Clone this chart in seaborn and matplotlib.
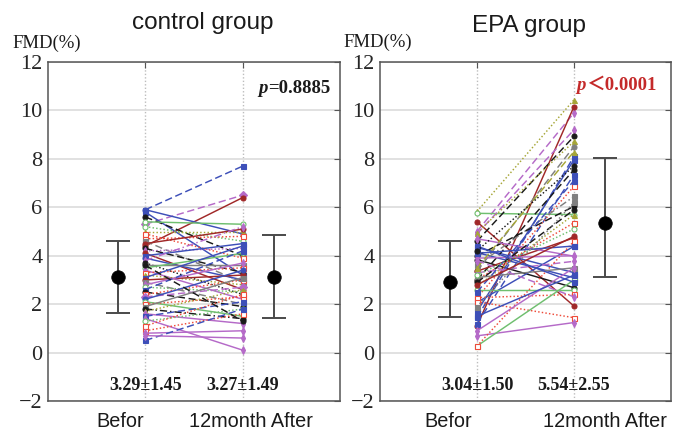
import matplotlib
matplotlib.use("Agg")
import matplotlib.pyplot as plt
import matplotlib.transforms as mtransforms
import numpy as np
import pandas as pd
import seaborn as sns

# ---------------- data ----------------
time_labels = ["Befor", "12month After"]
group_titles = ["control group", "EPA group"]
y_label = "FMD(%)"

ctrl_before = [5.9, 5.3, 4.4, 5.9, 5.8, 5.6, 5.4, 5.2, 5.0, 4.9,
               4.7, 4.6, 4.5, 4.3, 4.2, 4.1, 4.0, 3.9, 3.8, 3.7,
               3.6, 3.5, 3.4, 3.3, 3.2, 3.1, 3.0, 2.9, 2.8, 2.7,
               2.6, 2.5, 2.4, 2.3, 2.2, 2.1, 2.0, 1.9, 1.8, 1.7,
               1.6, 1.5, 1.4, 1.3, 1.1, 0.9, 0.8, 0.5, 0.7, 3.6]
ctrl_after = [7.7, 6.5, 6.4, 4.9, 3.2, 4.0, 5.3, 4.6, 5.0, 3.9,
              4.8, 2.9, 5.1, 3.3, 4.3, 2.6, 4.5, 3.0, 5.2, 2.4,
              3.6, 4.1, 2.2, 3.5, 2.8, 4.4, 3.2, 2.0, 3.7, 2.5,
              4.2, 1.9, 3.0, 2.7, 3.4, 1.5, 2.3, 3.1, 1.4, 2.6,
              1.2, 2.1, 0.1, 1.8, 2.4, 1.6, 0.9, 1.8, 0.6, 1.3]

epa_before = [5.83, 5.0, 1.1, 5.4, 5.75, 4.9, 4.6, 4.95, 4.34, 4.13,
              3.84, 1.45, 1.7, 3.36, 3.0, 1.2, 2.27, 3.6, 4.0, 2.74,
              3.02, 3.36, 2.07, 4.7, 3.3, 2.6, 2.27, 2.1, 0.69, 0.27,
              0.27, 3.9, 4.1, 3.1, 2.9, 2.5, 1.9, 3.5, 4.4, 3.8,
              0.9, 2.8, 4.2, 3.2, 1.5]
epa_after = [10.44, 9.9, 10.16, 1.92, 5.7, 9.2, 8.93, 8.72, 3.3, 3.09,
             2.68, 8.1, 7.96, 8.51, 7.55, 7.35, 6.87, 6.45, 6.04, 5.7,
             5.36, 4.74, 4.39, 3.98, 3.77, 2.6, 2.4, 1.44, 1.24, 3.0,
             4.6, 4.0, 4.4, 3.5, 5.9, 7.1, 6.2, 8.3, 2.9, 2.3,
             3.5, 4.8, 7.7, 5.1, 3.2]

# mean markers and error-bar ends as drawn
ctrl_mean = [3.12, 3.12]
ctrl_err_low = [1.65, 1.42]
ctrl_err_high = [4.59, 4.86]
epa_mean = [2.90, 5.36]
epa_err_low = [1.45, 3.14]
epa_err_high = [4.62, 8.03]

ctrl_summary = ["3.29±1.45", "3.27±1.49"]
epa_summary = ["3.04±1.50", "5.54±2.55"]
ctrl_p_text = ["p", "=0.8885"]
epa_p_text = ["p", "＜0.0001"]
y_ticks = [-2, 0, 2, 4, 6, 8, 10, 12]

# ---------------- styles ----------------
COLORS = {
    "b": "#3d4fb8", "r": "#a02828", "m": "#b56ac8", "g": "#6fbf6f",
    "k": "#1a1a1a", "a": "#808080", "y": "#a6a637", "o": "#ee4b3a",
}
LINESTYLES = {"-": "-", "--": (0, (5, 2.5)), ":": (0, (1, 1.5)), "-.": (0, (5, 2, 1, 2))}
OPEN = {"g", "o"}

ctrl_style = ["b--s", "m--D", "r-o", "b-o", "b-s", "k--o", "g-o", "g:o", "y:^", "o:s",
              "o:s", "a--s", "r-o", "k--o", "m:d", "r-o", "b-s", "b-o", "m-.d", "k:o",
              "a-s", "g-o", "m-d", "o:s", "y:^", "b-s", "r-o", "a--s", "m-d", "g:o",
              "b--s", "k--o", "o:s", "m--D", "b-o", "g-o", "o:s", "a-s", "k-.o", "y:^",
              "m-d", "b--s", "m-d", "g:o", "o:s", "o:s", "m-d", "b--s", "m-d", "k--o"]
epa_style = ["y:^", "m--d", "r-o", "r-o", "g-o", "m--d", "k--o", "y:^", "b-s", "b-s",
             "k-o", "b--s", "b-s", "a--o", "k--o", "b--s", "o:s", "a-.s", "k--o", "y:^",
             "o:s", "r-o", "b-s", "m-d", "m--d", "g-o", "o:s", "o:s", "m-d", "g-s",
             "o:s", "m-d", "b-s", "a-s", "k--o", "b--s", "a:s", "y--^", "b-s", "m--d",
             "m-d", "r-o", "k:o", "g:o", "b-s"]

sns.set_style("white")
plt.rcParams["font.family"] = ["Liberation Sans", "DejaVu Sans"]
SERIF = ["Liberation Serif", "Noto Sans CJK JP", "DejaVu Serif"]

W, H = 683, 432
fig = plt.figure(figsize=(W / 100, H / 100), dpi=100)
fig.patch.set_facecolor("white")

panels = [
    dict(before=ctrl_before, after=ctrl_after, style=ctrl_style, mean=ctrl_mean,
         low=ctrl_err_low, high=ctrl_err_high, summary=ctrl_summary, ptxt=ctrl_p_text,
         pcolor="#1a1a1a", px=2.165, py=10.71, left=48, right=340,
         title=group_titles[0], tx=203, ty=29, lx=47, ly=48, lab_x=(0.742, 2.088)),
    dict(before=epa_before, after=epa_after, style=epa_style, mean=epa_mean,
         low=epa_err_low, high=epa_err_high, summary=epa_summary, ptxt=epa_p_text,
         pcolor="#c42a2a", px=2.028, py=10.85, left=380, right=671,
         title=group_titles[1], tx=529, ty=32, lx=378, ly=47, lab_x=(0.70, 2.32)),
]

top_px, bot_px = 62, 401
mean_x = [0.72, 2.32]

for P in panels:
    ax = fig.add_axes([P["left"] / W, 1 - bot_px / H,
                       (P["right"] - P["left"]) / W, (bot_px - top_px) / H])
    ax.set_facecolor("white")
    n = len(P["before"])
    df = pd.DataFrame({
        "line": list(range(n)) * 2,
        "time": [1] * n + [2] * n,
        "value": list(P["before"]) + list(P["after"]),
    })
    for i, sub in df.groupby("line", sort=False):
        s = P["style"][i]
        c = COLORS[s[0]]
        ls = LINESTYLES[s[1:-1]]
        mk = s[-1]
        sns.lineplot(data=sub, x="time", y="value", ax=ax, color=c, linestyle=ls,
                     marker=mk, markersize=3.6, markeredgecolor=c,
                     markerfacecolor=("white" if s[0] in OPEN else c),
                     markeredgewidth=0.8, linewidth=1.05, sort=False,
                     estimator=None, legend=False, zorder=3)

    means = np.array(P["mean"])
    yerr = [means - np.array(P["low"]), np.array(P["high"]) - means]
    ax.errorbar(mean_x, means, yerr=yerr, fmt="none", ecolor="#4a4a4a",
                elinewidth=1.4, capsize=8.5, capthick=1.4, zorder=5)
    sns.scatterplot(x=mean_x, y=means, ax=ax, color="black", s=95,
                    edgecolor="black", linewidth=0.5, legend=False, zorder=6)

    ax.set_xlim(0, 3)
    ax.set_ylim(-2, 12)
    ax.set_yticks(y_ticks)
    ax.set_yticklabels([f"{t:d}".replace("-", "\u2212") for t in y_ticks],
                       fontfamily=SERIF, fontsize=16)
    ax.set_xticks([1, 2])
    ax.set_xticklabels(["", ""])
    # category labels under the axis (placed as in the picture)
    btrans = mtransforms.blended_transform_factory(ax.transData, ax.transAxes)
    for xl, lab in zip(P["lab_x"], time_labels):
        ax.text(xl, -(427 - bot_px) / (bot_px - top_px), lab, transform=btrans,
                ha="center", va="baseline", fontsize=14.3, color="#1a1a1a",
                clip_on=False)
    ax.set_xlabel("")
    ax.set_ylabel("")
    ax.set_axisbelow(True)
    ax.yaxis.grid(True, color="#dcdcdc", linestyle="-", linewidth=1.2)
    ax.xaxis.grid(True, color="#bdbdbd", linestyle=(0, (1, 1.5)), linewidth=1.0)
    ax.tick_params(axis="both", direction="in", top=True, right=True, length=4,
                   width=0.8, color="#555555")
    ax.tick_params(axis="y", pad=4)
    for sp in ax.spines.values():
        sp.set_visible(True)
        sp.set_color("#555555")
        sp.set_linewidth(1.1)

    # summary text
    for xt, txt in zip([1, 2], P["summary"]):
        ax.text(xt, -1.38, txt, ha="center", va="center", fontfamily=SERIF,
                fontweight="bold", fontsize=13, color="#1a1a1a", zorder=7)

    # p value
    pt = ax.text(P["px"], P["py"], P["ptxt"][0], ha="left", va="baseline",
                 fontfamily=SERIF, fontstyle="italic", fontweight="bold",
                 fontsize=13.5, color=P["pcolor"], zorder=7)
    ax.annotate(P["ptxt"][1], xy=(1, 0), xycoords=pt, ha="left", va="bottom",
                fontfamily=SERIF, fontweight="bold", fontsize=13.5,
                color=P["pcolor"], zorder=7)

    fig.text(P["tx"] / W, 1 - P["ty"] / H, P["title"], ha="center", va="baseline",
             fontsize=17.5, color="#1a1a1a")
    fig.text(P["lx"] / W, 1 - P["ly"] / H, y_label, ha="center", va="baseline",
             fontfamily=SERIF, fontsize=13.5, color="#1a1a1a")

fig.savefig("out.png", dpi=100, facecolor="white")
